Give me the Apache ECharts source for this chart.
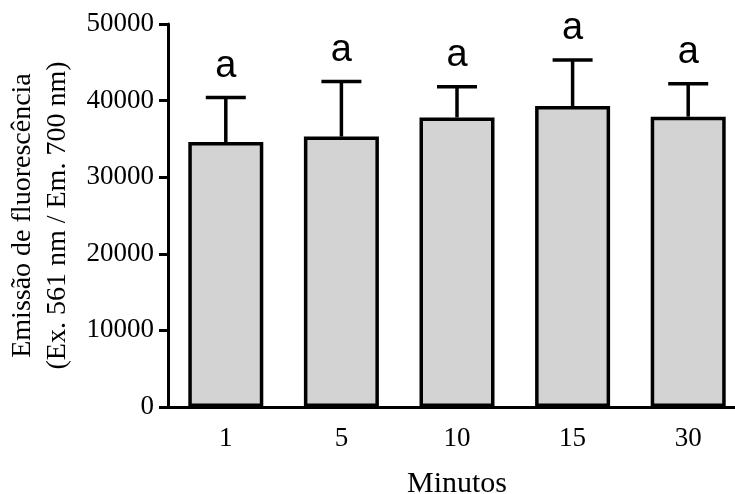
<!DOCTYPE html>
<html>
<head>
<meta charset="utf-8">
<script src="https://cdn.jsdelivr.net/npm/echarts@6/dist/echarts.min.js"></script>
<style>
  html, body { margin: 0; padding: 0; background: #fff; }
  #chart { width: 735px; height: 494px; }
</style>
</head>
<body>
<div id="chart"></div>
<script>
// dados
const minutos = ['1', '5', '10', '15', '30']
const medias = [34600, 35300, 37800, 39300, 37900]
const erros = [5800, 7200, 4000, 6000, 4300] // só a barra para cima
const letras = ['a', 'a', 'a', 'a', 'a']

const serif = '"Liberation Serif", "Times New Roman", serif'

const chart = echarts.init(document.getElementById('chart'))

// dados do erro: [categoria, media, media + erro]
const errData = medias.map((m, i) => [i, m, m + erros[i]])

chart.setOption({
  animation: false,
  backgroundColor: '#fff',
  grid: { left: 168, top: 24, width: 578, height: 383, outerBoundsMode: 'none', containLabel: false },
  xAxis: {
    type: 'category',
    data: minutos,
    name: 'Minutos',
    nameLocation: 'middle',
    nameGap: 62,
    nameTextStyle: { color: '#000', fontFamily: serif, fontSize: 30 },
    axisLine: { lineStyle: { color: '#000', width: 3 } },
    axisTick: { alignWithLabel: true, length: 9, lineStyle: { color: '#000', width: 3 } },
    axisLabel: { color: '#000', fontFamily: serif, fontSize: 27, margin: 18 }
  },
  yAxis: {
    type: 'value',
    min: 0,
    max: 50000,
    interval: 10000,
    name: 'Emissão de fluorescência\n(Ex. 561 nm / Em. 700 nm)',
    nameLocation: 'middle',
    nameRotate: 90,
    nameGap: 92,
    nameTextStyle: { color: '#000', fontFamily: serif, fontSize: 28, lineHeight: 35 },
    splitLine: { show: false },
    axisLine: { show: true, lineStyle: { color: '#000', width: 3 } },
    axisTick: { show: true, length: 9, lineStyle: { color: '#000', width: 3 } },
    axisLabel: {
      color: '#000', fontFamily: serif, fontSize: 27, margin: 14,
      formatter: function (v) { return String(v) }
    }
  },
  series: [
    {
      type: 'bar',
      data: medias,
      barWidth: 75,
      itemStyle: { color: '#d3d3d3', borderColor: '#000', borderWidth: 3.5 },
      z: 2
    },
    {
      type: 'custom',
      data: errData,
      z: 3,
      renderItem: function (params, api) {
        const x = api.value(0)
        const top = api.coord([x, api.value(1)])
        const cap = api.coord([x, api.value(2)])
        const half = 20
        const style = { stroke: '#000', lineWidth: 3.5 }
        return {
          type: 'group',
          children: [
            { type: 'line', shape: { x1: top[0], y1: top[1], x2: cap[0], y2: cap[1] }, style: style },
            { type: 'line', shape: { x1: cap[0] - half, y1: cap[1], x2: cap[0] + half, y2: cap[1] }, style: style },
            {
              type: 'text',
              style: {
                text: letras[params.dataIndex],
                x: cap[0],
                y: cap[1] - 12,
                align: 'center',
                verticalAlign: 'bottom',
                fill: '#000',
                font: '38px "Liberation Sans", Arial, sans-serif'
              }
            }
          ]
        }
      }
    }
  ]
})
</script>
</body>
</html>
